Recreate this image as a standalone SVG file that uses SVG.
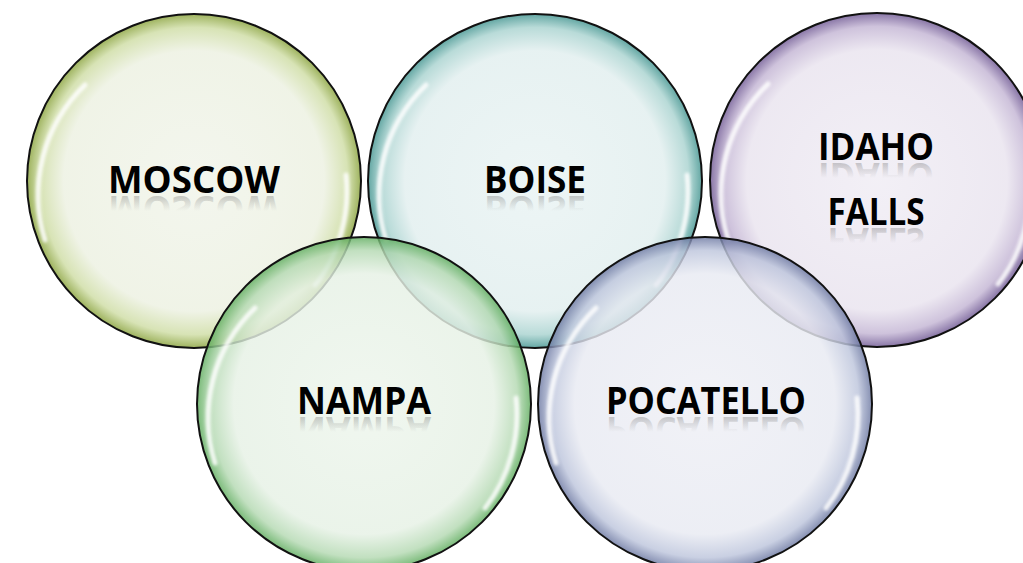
<svg xmlns="http://www.w3.org/2000/svg" xmlns:xlink="http://www.w3.org/1999/xlink" width="1023" height="563" viewBox="0 0 1023 563">
<defs>
<style>
.ring{stroke:#111;stroke-width:2}
.lbl{font-family:"Open Sans","Liberation Sans",sans-serif;font-weight:700;font-size:38px}
.hl{fill:none;stroke:#fff;stroke-width:5;stroke-linecap:round;opacity:0.85;filter:url(#blur)}
.refl{fill:url(#refl)}
</style>
<filter id="blur" x="-20%" y="-20%" width="140%" height="140%"><feGaussianBlur stdDeviation="1.5"/></filter>
<linearGradient id="refl" x1="0" y1="0" x2="0" y2="1">
<stop offset="0" stop-color="#777" stop-opacity="0"/>
<stop offset="0.5" stop-color="#777" stop-opacity="0"/>
<stop offset="1" stop-color="#555" stop-opacity="0.55"/>
</linearGradient>
<radialGradient id="gMos"><stop offset="0" stop-color="#f2f5ec"/><stop offset="0.78" stop-color="#eef2e4"/><stop offset="0.92" stop-color="#d3e0ad"/><stop offset="1" stop-color="#93aa4c"/></radialGradient>
<radialGradient id="gBoi"><stop offset="0" stop-color="#ebf4f4"/><stop offset="0.78" stop-color="#e4f0f0"/><stop offset="0.92" stop-color="#b1d7d4"/><stop offset="1" stop-color="#529d99"/></radialGradient>
<radialGradient id="gIda"><stop offset="0" stop-color="#f1eef5"/><stop offset="0.78" stop-color="#ebe6f0"/><stop offset="0.92" stop-color="#c9bcd8"/><stop offset="1" stop-color="#7b669c"/></radialGradient>
<radialGradient id="gNam"><stop offset="0" stop-color="#edf5ec"/><stop offset="0.78" stop-color="#e6f1e5"/><stop offset="0.92" stop-color="#b4d9b2"/><stop offset="1" stop-color="#5eac5d"/></radialGradient>
<radialGradient id="gPoc"><stop offset="0" stop-color="#eeeff5"/><stop offset="0.78" stop-color="#e8eaf2"/><stop offset="0.92" stop-color="#bdc5dc"/><stop offset="1" stop-color="#6b77a1"/></radialGradient>
</defs>
<rect width="1023" height="563" fill="#fff"/>
<g id="moscow">
<circle class="ring" cx="194" cy="181" r="167" fill="url(#gMos)" fill-opacity="0.9"/>
<path class="hl" d="M 45 240 A 152 152 0 0 1 85 85"/>
<path class="hl" d="M 346 175 A 152 152 0 0 1 315 285"/>
<text id="t-mos" class="lbl" x="194" y="193" text-anchor="middle" textLength="172" lengthAdjust="spacingAndGlyphs">MOSCOW</text>
<use xlink:href="#t-mos" class="refl" transform="translate(0,389) scale(1,-1)"/>
</g>
<g id="boise">
<circle class="ring" cx="535" cy="181" r="167" fill="url(#gBoi)" fill-opacity="0.9"/>
<path class="hl" d="M 386 240 A 152 152 0 0 1 426 85"/>
<path class="hl" d="M 687 175 A 152 152 0 0 1 656 285"/>
<text id="t-boi" class="lbl" x="535" y="193" text-anchor="middle" textLength="102" lengthAdjust="spacingAndGlyphs">BOISE</text>
<use xlink:href="#t-boi" class="refl" transform="translate(0,389) scale(1,-1)"/>
</g>
<g id="idaho-falls">
<circle class="ring" cx="877" cy="180" r="167" fill="url(#gIda)" fill-opacity="0.9"/>
<path class="hl" d="M 728 239 A 152 152 0 0 1 768 84"/>
<path class="hl" d="M 1029 174 A 152 152 0 0 1 998 284"/>
<text id="t-ida" class="lbl" x="876" y="160" text-anchor="middle" textLength="116" lengthAdjust="spacingAndGlyphs">IDAHO</text>
<use xlink:href="#t-ida" class="refl" transform="translate(0,323) scale(1,-1)"/>
<text id="t-fal" class="lbl" x="876" y="225" text-anchor="middle" textLength="97" lengthAdjust="spacingAndGlyphs">FALLS</text>
<use xlink:href="#t-fal" class="refl" transform="translate(0,453) scale(1,-1)"/>
</g>
<g id="nampa">
<circle class="ring" cx="364" cy="404" r="167" fill="url(#gNam)" fill-opacity="0.82"/>
<path class="hl" d="M 215 463 A 152 152 0 0 1 255 308"/>
<path class="hl" d="M 516 398 A 152 152 0 0 1 485 508"/>
<text id="t-nam" class="lbl" x="364" y="414" text-anchor="middle" textLength="134" lengthAdjust="spacingAndGlyphs">NAMPA</text>
<use xlink:href="#t-nam" class="refl" transform="translate(0,831) scale(1,-1)"/>
</g>
<g id="pocatello">
<circle class="ring" cx="705" cy="404" r="167" fill="url(#gPoc)" fill-opacity="0.82"/>
<path class="hl" d="M 556 463 A 152 152 0 0 1 596 308"/>
<path class="hl" d="M 857 398 A 152 152 0 0 1 826 508"/>
<text id="t-poc" class="lbl" x="706" y="414" text-anchor="middle" textLength="200" lengthAdjust="spacingAndGlyphs">POCATELLO</text>
<use xlink:href="#t-poc" class="refl" transform="translate(0,831) scale(1,-1)"/>
</g>
<g id="connectors"/>
</svg>
